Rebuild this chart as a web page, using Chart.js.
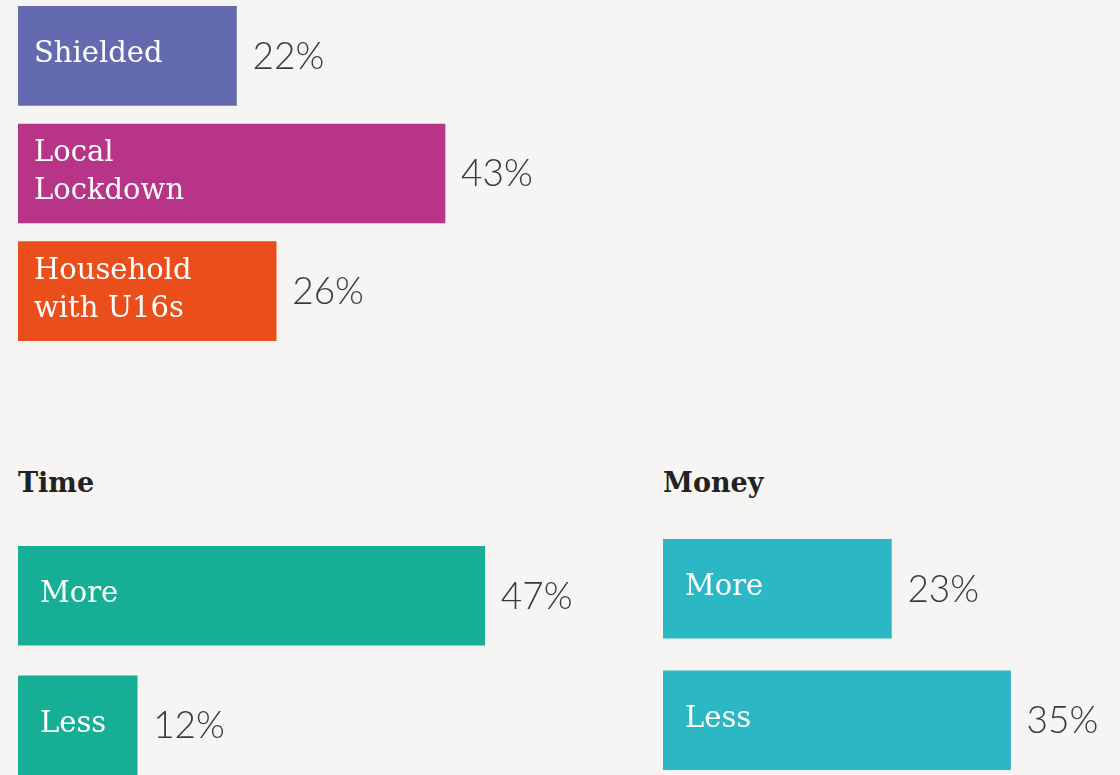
<!DOCTYPE html>
<html>
<head>
<meta charset="utf-8">
<script src="https://cdn.jsdelivr.net/npm/chart.js@4.4.1/dist/chart.umd.min.js"></script>
<style>
  html, body { margin: 0; padding: 0; background: #f6f5f3; overflow: hidden; }
  body { width: 1120px; height: 775px; position: relative; }
  canvas { position: absolute; }
  .title { position: absolute; font-family: "DejaVu Serif", serif; font-size: 27px; font-weight: bold; color: #222; line-height: 30px; }
</style>
</head>
<body>
<canvas id="groupChart" width="560" height="353" style="left:0;top:-3px"></canvas>
<div class="title" style="left:18px;top:468px">Time</div>
<canvas id="timeChart" width="620" height="259" style="left:0;top:531px"></canvas>
<div class="title" style="left:663px;top:468px">Money</div>
<canvas id="moneyChart" width="475" height="263" style="left:645px;top:523px"></canvas>
<script>
// data
var groupLabels = [['Shielded'], ['Local', 'Lockdown'], ['Household', 'with U16s']];
var groupValues = [22, 43, 26];
var groupColors = ['#646aaf', '#b83488', '#e94e1b'];

var timeLabels = [['More'], ['Less']];
var timeValues = [47, 12];

var moneyLabels = [['More'], ['Less']];
var moneyValues = [23, 35];

var PX_PER_PCT = 9.93;
var LEFT_PAD = 18;

var barTextPlugin = {
    id: 'barText',
    afterDatasetsDraw: function(chart) {
        var ctx = chart.ctx;
        var meta = chart.getDatasetMeta(0);
        var inset = chart.options.plugins.barText.inset;
        meta.data.forEach(function(bar, i) {
            var lines = chart.data.labels[i];
            var lineHeight = 38;
            ctx.save();
            ctx.fillStyle = '#ffffff';
            ctx.font = '29px "DejaVu Serif", serif';
            ctx.textAlign = 'left';
            ctx.textBaseline = 'middle';
            var top = bar.y - (lines.length - 1) * lineHeight / 2 - 1;
            lines.forEach(function(line, j) {
                ctx.fillText(line, bar.base + inset, top + j * lineHeight);
            });
            ctx.fillStyle = '#3a3a3a';
            ctx.font = '300 37px Lato, sans-serif';
            ctx.fillText(chart.data.datasets[0].data[i] + '%', bar.x + 16, bar.y + 1);
            ctx.restore();
        });
    }
};

function makeChart(id, labels, values, colors, inset) {
    var canvas = document.getElementById(id);
    var ctx = canvas.getContext('2d');
    return new Chart(ctx, {
        type: 'bar',
        data: {
            labels: labels,
            datasets: [{
                data: values,
                backgroundColor: colors,
                borderWidth: 0,
                barThickness: 99
            }]
        },
        options: {
            indexAxis: 'y',
            responsive: false,
            animation: false,
            layout: { padding: { left: LEFT_PAD, right: 0, top: 0, bottom: 0 } },
            scales: {
                x: { display: false, min: 0, max: (canvas.width - LEFT_PAD) / PX_PER_PCT },
                y: { display: false }
            },
            plugins: {
                legend: { display: false },
                tooltip: { enabled: false },
                barText: { inset: inset }
            }
        },
        plugins: [barTextPlugin]
    });
}

makeChart('groupChart', groupLabels, groupValues, groupColors, 16);
makeChart('timeChart', timeLabels, timeValues, '#17ae96', 22);
makeChart('moneyChart', moneyLabels, moneyValues, '#2bb7c4', 22);
</script>
</body>
</html>
